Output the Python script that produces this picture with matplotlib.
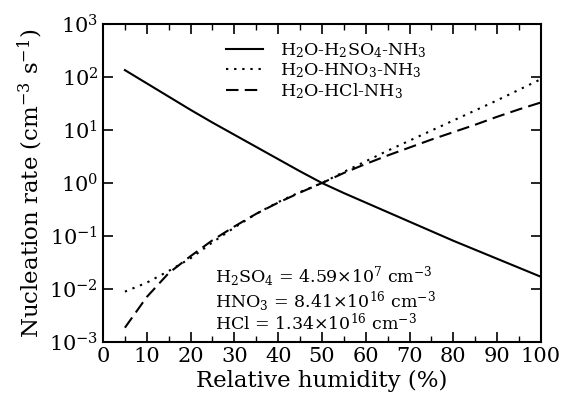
import matplotlib
matplotlib.use("Agg")
import matplotlib.pyplot as plt
import numpy as np
from matplotlib.ticker import MultipleLocator, LogLocator, NullLocator

plt.rcParams['font.family'] = ['DejaVu Serif']
plt.rcParams['mathtext.fontset'] = 'dejavuserif'

rh = [5, 10, 15, 20, 25, 30, 35, 40, 45, 50, 55, 60, 65, 70, 75, 80, 85, 90, 95, 100]
log_h2so4 = [2.13, 1.88, 1.63, 1.38, 1.14, 0.91, 0.68, 0.45, 0.22, 0.0,
             -0.19, -0.37, -0.55, -0.73, -0.91, -1.09, -1.26, -1.43, -1.60, -1.77]
log_hno3 = [-2.05, -1.88, -1.66, -1.42, -1.12, -0.84, -0.58, -0.36, -0.17, 0.0,
            0.21, 0.41, 0.61, 0.80, 0.99, 1.18, 1.37, 1.56, 1.76, 1.96]
log_hcl = [-2.73, -2.15, -1.70, -1.38, -1.08, -0.82, -0.58, -0.37, -0.18, 0.0,
           0.19, 0.36, 0.52, 0.67, 0.82, 0.96, 1.10, 1.25, 1.39, 1.52]

labels = [r'H$_2$O-H$_2$SO$_4$-NH$_3$', r'H$_2$O-HNO$_3$-NH$_3$', r'H$_2$O-HCl-NH$_3$']
conc_text = (r'H$_2$SO$_4$ = 4.59$\times$10$^{7}$ cm$^{-3}$' + '\n' +
             r'HNO$_3$ = 8.41$\times$10$^{16}$ cm$^{-3}$' + '\n' +
             r'HCl = 1.34$\times$10$^{16}$ cm$^{-3}$')

fig = plt.figure(figsize=(5.61, 4.09), dpi=100)
ax = fig.add_axes([0.1836, 0.1638, 0.7807, 0.7775])

ax.plot(rh, 10 ** np.array(log_h2so4), color='black', lw=1.5, ls='-', label=labels[0])
ax.plot(rh, 10 ** np.array(log_hno3), color='black', lw=1.5, ls=(0, (1.1, 2.8)), label=labels[1])
ax.plot(rh, 10 ** np.array(log_hcl), color='black', lw=1.5, ls=(0, (6, 3)), label=labels[2])

ax.set_yscale('log')
ax.set_xlim(0, 100)
ax.set_ylim(1e-3, 1e3)
ax.xaxis.set_major_locator(MultipleLocator(10))
ax.xaxis.set_minor_locator(MultipleLocator(5))
ax.yaxis.set_major_locator(LogLocator(base=10, numticks=10))
ax.yaxis.set_minor_locator(NullLocator())
ax.tick_params(which='both', direction='in', top=True, right=True, labelsize=15)
ax.tick_params(which='major', length=7, width=1.2)
ax.tick_params(which='minor', length=4, width=1.0)
for s in ax.spines.values():
    s.set_linewidth(1.5)

ax.set_xlabel('Relative humidity (%)', fontsize=16.5, labelpad=3)
ax.set_ylabel(r'Nucleation rate (cm$^{-3}$ s$^{-1}$)', fontsize=16.5, labelpad=3)

leg = ax.legend(loc='upper center', bbox_to_anchor=(0.51, 0.995), frameon=False, fontsize=12.5,
                handlelength=2.1, handletextpad=1.0, labelspacing=0.08)

ax.text(0.255, 0.025, conc_text, transform=ax.transAxes, fontsize=12.5,
        ha='left', va='bottom', linespacing=1.0)

fig.savefig('out.png', dpi=100)
